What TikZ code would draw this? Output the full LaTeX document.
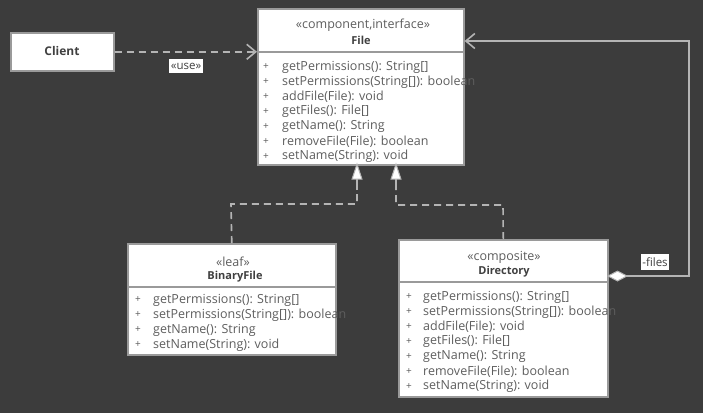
\documentclass[tikz,border=0pt]{standalone}
\usepackage{fontspec}
\setmainfont{Open Sans}
\usetikzlibrary{arrows.meta,positioning}
\definecolor{bg}{HTML}{3C3C3C}
\definecolor{edge}{HTML}{B4B4B4}
\definecolor{boxline}{HTML}{9A9A9A}
\definecolor{txt}{HTML}{5E5E5E}
\definecolor{ttl}{HTML}{404040}
\tikzset{
  classbox/.style={draw=boxline, line width=1.6pt, fill=white, anchor=north west, inner sep=0pt},
  divider/.style={draw=boxline, line width=1.2pt},
  stereo/.style={text=txt, font=\fontsize{12.5}{14}\selectfont, inner sep=0pt},
  cname/.style={text=ttl, font=\fontsize{11}{13}\selectfont\bfseries, inner sep=0pt},
  member/.style={text=txt, font=\fontsize{12.5}{14}\selectfont, inner sep=0pt, anchor=west},
  plus/.style={text=txt, font=\fontsize{10}{11}\selectfont, inner sep=0pt},
  conn/.style={draw=edge, line width=1.6pt},
  dashconn/.style={conn, dash pattern=on 7pt off 5pt},
  tag/.style={fill=white, text=ttl, font=\fontsize{11.5}{13}\selectfont, inner xsep=1.8pt, inner ysep=3.5pt},
  barb/.style={-{Straight Barb[length=9pt,width=15pt,line width=1.6pt]}},
  tri/.style={-{Triangle[fill=white, length=17pt, width=11pt, line width=1pt]}},
}
\begin{document}
\begin{tikzpicture}[x=1pt,y=-1pt]
\fill[bg] (0,0) rectangle (703,413);
\useasboundingbox (0,0) rectangle (703,413);

% Client
\node[classbox, minimum width=103pt, minimum height=38pt] (client) at (10,32) {};
\node[cname, font=\fontsize{12}{14}\selectfont\bfseries] (clientname) at (62,51) {Client};

% File
\node[classbox, minimum width=206pt, minimum height=156pt] (file) at (257,8) {};
\draw[divider] (257,52) -- (463,52);
\node[stereo] (filest) at (363,25) {«component,interface»};
\node[cname] (filename) at (361,40) {File};
\foreach \i/\t in {0/{getPermissions(): String[]},1/{setPermissions(String[]): boolean},2/{addFile(File): void},3/{getFiles(): File[]},4/{getName(): String},5/{removeFile(File): boolean},6/{setName(String): void}}{
  \node[plus] (fp\i) at (266,{67+14.9*\i}) {+};
  \node[member] (fm\i) at (282,{67+14.9*\i}) {\t};
}

% BinaryFile
\node[classbox, minimum width=208pt, minimum height=111pt] (binary) at (127,243) {};
\draw[divider] (127,287) -- (335,287);
\node[stereo] (binst) at (233,262) {«leaf»};
\node[cname] (binname) at (235,277) {BinaryFile};
\foreach \i/\t in {0/{getPermissions(): String[]},1/{setPermissions(String[]): boolean},2/{getName(): String},3/{setName(String): void}}{
  \node[plus] (bp\i) at (138,{300+15*\i}) {+};
  \node[member] (bm\i) at (153,{300+15*\i}) {\t};
}

% Directory
\node[classbox, minimum width=209pt, minimum height=157pt] (dir) at (398,239) {};
\draw[divider] (398,282) -- (607,282);
\node[stereo] (dirst) at (504,257) {«composite»};
\node[cname] (dirname) at (504,272) {Directory};
\foreach \i/\t in {0/{getPermissions(): String[]},1/{setPermissions(String[]): boolean},2/{addFile(File): void},3/{getFiles(): File[]},4/{getName(): String},5/{removeFile(File): boolean},6/{setName(String): void}}{
  \node[plus] (dp\i) at (409,{297+14.9*\i}) {+};
  \node[member] (dm\i) at (423,{297+14.9*\i}) {\t};
}

% use dependency
\draw[dashconn, barb] (client.east) -- (client.east -| file.west);
\node[tag] (uselbl) at (186,66) {«use»};

% realizations
\coordinate (bturn) at (231,204);
\coordinate (fjoin1) at (357,204);
\coordinate (fjoin1b) at (357,190);
\draw[dashconn] (binary.north) -- (bturn) -- (fjoin1) -- (fjoin1b);
\draw[conn, tri] (fjoin1b) -- ([yshift=3pt]fjoin1b |- file.south);
\coordinate (dturn) at (503,205);
\coordinate (fjoin2) at (396,205);
\coordinate (fjoin2b) at (396,190);
\draw[dashconn] (dir.north) -- (dturn) -- (fjoin2) -- (fjoin2b);
\draw[conn, tri] (fjoin2b) -- ([yshift=3pt]fjoin2b |- file.south);

% aggregation
\coordinate (aggstart) at (607,276);
\coordinate (aggcorner) at (689,276);
\coordinate (aggtop) at (689,41);
\draw[conn, {Diamond[fill=white, length=21pt, width=11pt, line width=1pt]}-{Straight Barb[length=9pt,width=15pt,line width=1.6pt]}] (aggstart) -- (aggcorner) -- (aggtop) -- (aggtop -| file.east);
\node[tag] (fileslbl) at (655,262) {-files};
\end{tikzpicture}
\end{document}
